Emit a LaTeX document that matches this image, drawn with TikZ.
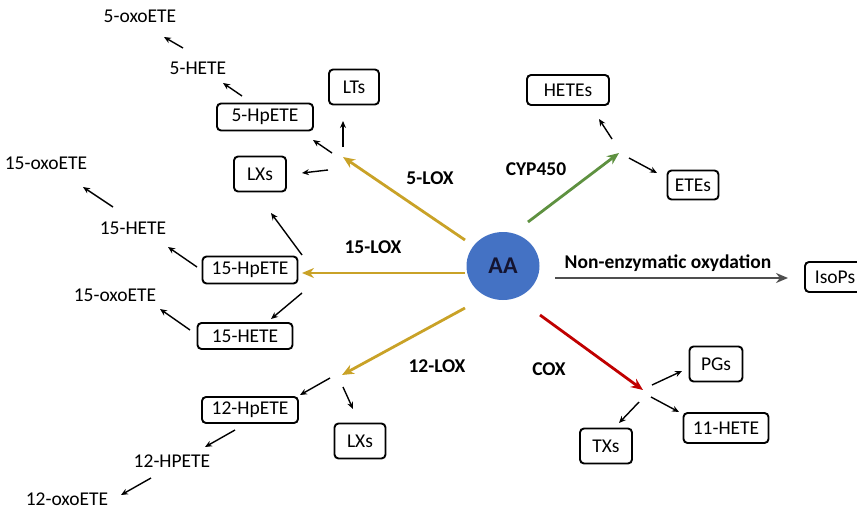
\documentclass[tikz,border=0pt]{standalone}
\usepackage{fontspec}
\setmainfont{Carlito}
\usetikzlibrary{arrows.meta,shapes.geometric}
\definecolor{goldc}{HTML}{C9A227}
\definecolor{greenc}{HTML}{5E9140}
\definecolor{redc}{HTML}{C00000}
\definecolor{grayc}{HTML}{4F4F4F}
\definecolor{bluec}{HTML}{4472C4}
\definecolor{navyc}{HTML}{141430}
\begin{document}
\begin{tikzpicture}[x=1pt,y=-1pt,
  font=\fontsize{19.5}{23}\selectfont,
  box/.style={draw, rounded corners=4pt, line width=1.9pt, inner sep=0pt},
  txt/.style={inner sep=0pt},
  lbl/.style={inner sep=0pt, font=\fontsize{19.5}{23}\selectfont\bfseries},
  arr/.style={-{Stealth[length=7pt,width=6pt]}, line width=1.4pt},
  big/.style={line width=2.8pt, -{Stealth[length=12pt,width=10pt]}}]
\useasboundingbox (0,0) rectangle (857,511);
% central node
\node[ellipse, fill=bluec, minimum width=73pt, minimum height=68pt, inner sep=0pt,
  font=\fontsize{24}{28}\selectfont\bfseries, text=navyc] (AA) at (503,266) {AA};
% left upper (5-LOX)
\node[txt] (oxo5) at (140,16) {5-oxoETE};
\node[txt] (hete5) at (198,68) {5-HETE};
\node[box, minimum width=96pt, minimum height=27pt] (hp5) at (265,117) {5-HpETE};
\node[box, minimum width=50pt, minimum height=35pt] (lts) at (354,87) {LTs};
\node[box, minimum width=52pt, minimum height=35pt] (lxs1) at (260,174) {LXs};
\coordinate (j5) at (343,157);
% 15-LOX
\node[txt] (oxo15a) at (46,163) {15-oxoETE};
\node[txt] (hete15a) at (133,228) {15-HETE};
\node[box, minimum width=95pt, minimum height=27pt] (hp15) at (250,270) {15-HpETE};
\node[txt] (oxo15b) at (115,295) {15-oxoETE};
\node[box, minimum width=95pt, minimum height=26pt] (hete15b) at (245,336) {15-HETE};
% 12-LOX
\coordinate (j12) at (342,375);
\node[box, minimum width=96pt, minimum height=26pt] (hp12) at (250,410) {12-HpETE};
\node[box, minimum width=51pt, minimum height=35pt] (lxs2) at (360,441) {LXs};
\node[txt] (hpete12) at (172,461) {12-HPETE};
\node[txt] (oxo12) at (67,499) {12-oxoETE};
% CYP450
\coordinate (jcyp) at (619,153);
\node[box, minimum width=82pt, minimum height=30pt] (hetes) at (568,90) {HETEs};
\node[box, minimum width=51pt, minimum height=29pt] (etes) at (693,185) {ETEs};
% non enzymatic
\node[box, minimum width=60pt, minimum height=30pt] (isops) at (835,277) {IsoPs};
% COX
\coordinate (jcox) at (643,390);
\node[box, minimum width=53pt, minimum height=35pt] (pgs) at (716,364) {PGs};
\node[box, minimum width=85pt, minimum height=30pt] (hete11) at (726,428) {11-HETE};
\node[box, minimum width=52pt, minimum height=35pt] (txs) at (606,446) {TXs};
% labels
\node[lbl] (l5) at (430,178) {5-LOX};
\node[lbl] (l15) at (373,247) {15-LOX};
\node[lbl] (l12) at (437,366) {12-LOX};
\node[lbl] (lcyp) at (536,169) {CYP450};
\node[lbl] (lne) at (668,263) {Non-enzymatic oxydation};
\node[lbl] (lcox) at (549,369) {COX};
% main coloured arrows
\draw[big, goldc] ([shift={(-38,-26)}]AA.center) -- (j5);
\draw[big, goldc] ([shift={(-38,7)}]AA.center) -- ([shift={(52,3)}]hp15.center);
\draw[big, goldc] ([shift={(-38,42)}]AA.center) -- (j12);
\draw[big, greenc] ([shift={(25,-44)}]AA.center) -- (jcyp);
\draw[big, grayc] ([shift={(52,12)}]AA.center) -- ([shift={(-47,1)}]isops.center);
\draw[big, redc] ([shift={(37,49)}]AA.center) -- (jcox);
% black arrows
\draw[arr] ([shift={(-15,-20)}]hete5.center) -- ([shift={(24,21)}]oxo5.center);
\draw[arr] ([shift={(-23,-21)}]hp5.center) -- ([shift={(25,15)}]hete5.center);
\draw[arr] ([shift={(0,-10)}]j5) -- ([shift={(-11,34)}]lts.center);
\draw[arr] ([shift={(-11,-4)}]j5) -- ([shift={(48,23)}]hp5.center);
\draw[arr] ([shift={(-15,13)}]j5) -- ([shift={(42,-1)}]lxs1.center);
\draw[arr] ([shift={(-20,-21)}]hete15a.center) -- ([shift={(37,24)}]oxo15a.center);
\draw[arr] ([shift={(-53,-3)}]hp15.center) -- ([shift={(35,19)}]hete15a.center);
\draw[arr] ([shift={(52,-15)}]hp15.center) -- ([shift={(11,39)}]lxs1.center);
\draw[arr] ([shift={(52,23)}]hp15.center) -- ([shift={(26,-17)}]hete15b.center);
\draw[arr] ([shift={(-55,-6)}]hete15b.center) -- ([shift={(45,14)}]oxo15b.center);
\draw[arr] ([shift={(-12,3)}]j12) -- ([shift={(50,-15)}]hp12.center);
\draw[arr] ([shift={(1,12)}]j12) -- ([shift={(-7,-32)}]lxs2.center);
\draw[arr] ([shift={(-15,20)}]hp12.center) -- ([shift={(33,-14)}]hpete12.center);
\draw[arr] ([shift={(-21,17)}]hpete12.center) -- ([shift={(54,-4)}]oxo12.center);
\draw[arr] ([shift={(-7,-14)}]jcyp) -- ([shift={(31,29)}]hetes.center);
\draw[arr] ([shift={(10,5)}]jcyp) -- ([shift={(-36,-12)}]etes.center);
\draw[arr] ([shift={(9,-5)}]jcox) -- ([shift={(-34,7)}]pgs.center);
\draw[arr] ([shift={(8,7)}]jcox) -- ([shift={(-47,-16)}]hete11.center);
\draw[arr] ([shift={(-4,12)}]jcox) -- ([shift={(13,-23)}]txs.center);
\end{tikzpicture}
\end{document}
